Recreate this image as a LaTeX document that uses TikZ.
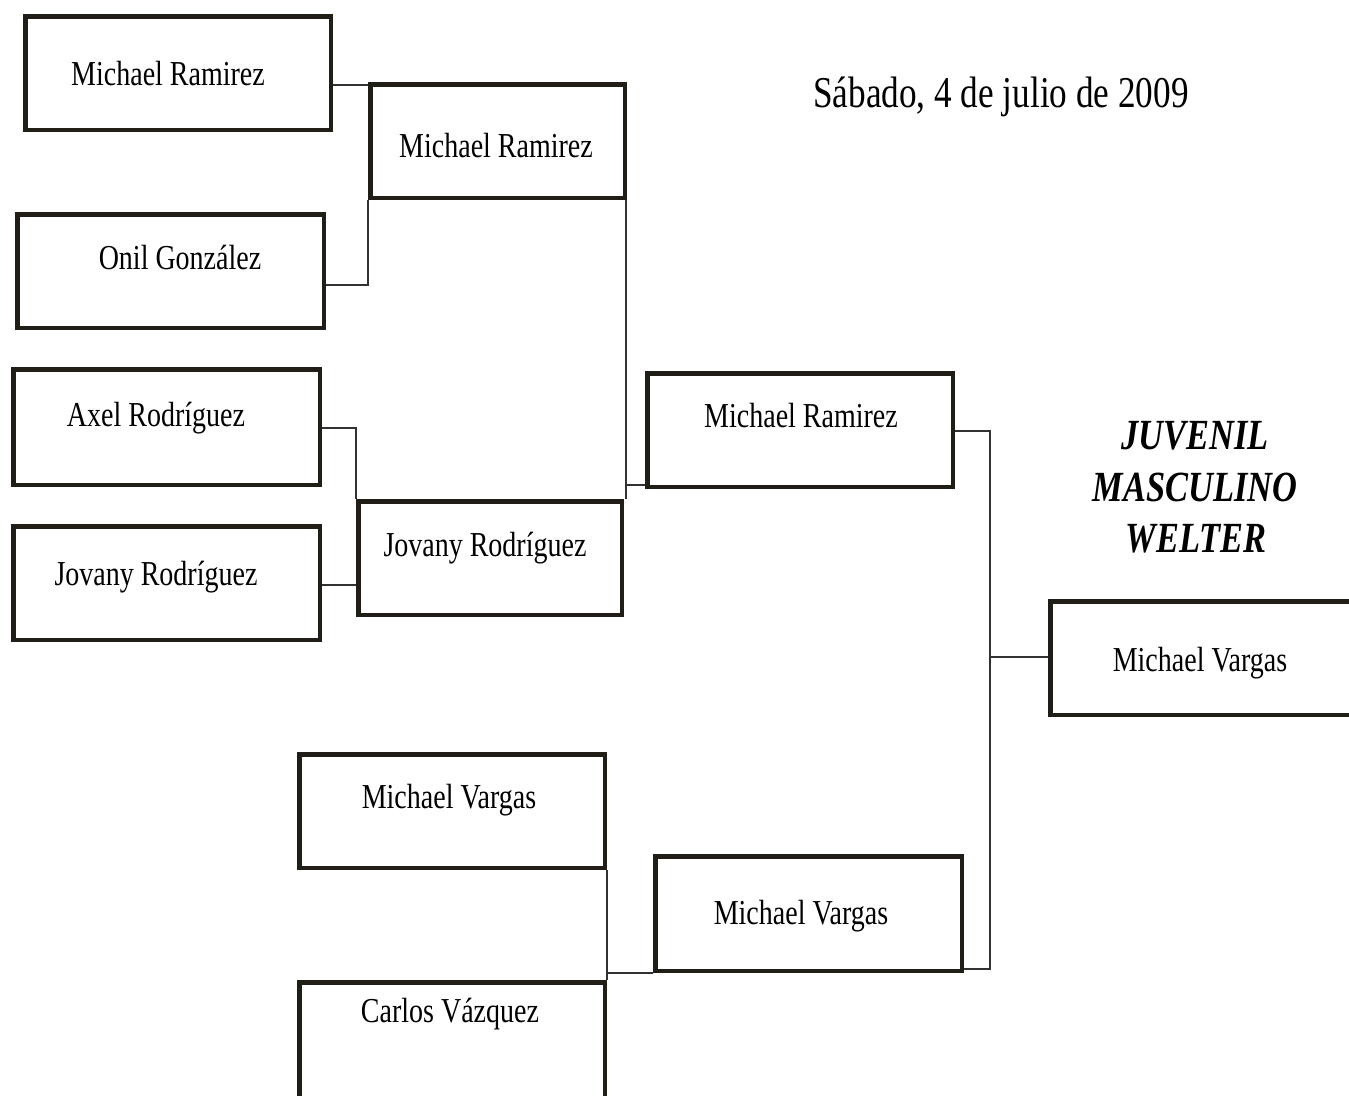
\documentclass[tikz,border=0pt]{standalone}
\usepackage{fontspec}
\setmainfont[FakeStretch=0.8]{Liberation Serif}
\definecolor{boxc}{RGB}{32,30,22}
\definecolor{connc}{RGB}{50,50,50}
\begin{document}
\begin{tikzpicture}[x=1pt,y=-1pt,
  bx/.style={draw=boxc, line width=4.5pt, inner sep=0pt, fill=none},
  conn/.style={draw=connc, line width=1.4pt},
  nm/.style={anchor=base, inner sep=0pt, font=\fontsize{35}{40}\selectfont},
  ttl/.style={anchor=base, inner sep=0pt, font=\fontsize{44}{50}\selectfont},
  cat/.style={anchor=base, inner sep=0pt, font=\fontsize{43}{50}\selectfont\bfseries\itshape}]
\useasboundingbox (0,0) rectangle (1349,1095);
\clip (0,0) rectangle (1349,1095);
% boxes: center at ((x1+x2)/2,(y1+y2)/2), size (w-4.5, h-4.5)
\node[bx, minimum width=305.5pt, minimum height=113.5pt] (b1) at (178,73) {};
\node[bx, minimum width=306.5pt, minimum height=113.5pt] (b2) at (170.5,271) {};
\node[bx, minimum width=306.5pt, minimum height=115.5pt] (b3) at (166.5,427) {};
\node[bx, minimum width=306.5pt, minimum height=113.5pt] (b4) at (166.5,583) {};
\node[bx, minimum width=254.5pt, minimum height=113.5pt] (b5) at (497.5,141) {};
\node[bx, minimum width=263.5pt, minimum height=113.5pt] (b6) at (490,558) {};
\node[bx, minimum width=305.5pt, minimum height=113.5pt] (b7) at (800,430) {};
\node[bx, minimum width=305.5pt, minimum height=113.5pt] (b8) at (452,811) {};
\node[bx, minimum width=305.5pt, minimum height=135.5pt] (b9) at (452,1050) {};
\node[bx, minimum width=306.5pt, minimum height=114.5pt] (b10) at (808.5,913.5) {};
\node[bx, minimum width=312.5pt, minimum height=113.5pt] (b11) at (1206.5,658) {};
% names
\node[nm] (t1) at (168,85.5) {Michael Ramirez};
\node[nm] (t2) at (180,269.5) {Onil González};
\node[nm] (t3) at (156,426.5) {Axel Rodríguez};
\node[nm] (t4) at (156,585.5) {Jovany Rodríguez};
\node[nm] (t5) at (496,157.5) {Michael Ramirez};
\node[nm] (t6) at (485,556.5) {Jovany Rodríguez};
\node[nm] (t7) at (801,427.5) {Michael Ramirez};
\node[nm] (t8) at (449,808.5) {Michael Vargas};
\node[nm] (t9) at (450,1022.5) {Carlos Vázquez};
\node[nm] (t10) at (801,924.5) {Michael Vargas};
\node[nm] (t11) at (1200,671.5) {Michael Vargas};
% title and category
\node[ttl] (title) at (1001,107) {Sábado, 4 de julio de 2009};
\node[cat] (c1) at (1195,449) {JUVENIL};
\node[cat] (c2) at (1195,501) {MASCULINO};
\node[cat] (c3) at (1196,552) {WELTER};
% connectors
\draw[conn] (b1.east |- 0,85) -- (b5.west |- 0,85);
\draw[conn] (b2.east |- 0,285) -| (b5.south west);
\draw[conn] (b3.east |- 0,428) -| (b6.north west);
\draw[conn] (b4.east |- 0,585) -- (b6.west |- 0,585);
\coordinate (v1) at (626,200);
\draw[conn] (v1) -- (v1 |- b6.north);
\draw[conn] (v1 |- 0,485) -- (b7.west |- 0,485);
\coordinate (j) at (990,657);
\draw[conn] (b7.east |- 0,431) -- (j |- 0,431) -- (j |- 0,969) -- (b10.east |- 0,969);
\draw[conn] (j) -- (b11.west |- j);
\coordinate (v2) at (607,870);
\draw[conn] (v2) -- (v2 |- b9.north);
\draw[conn] (v2 |- 0,973) -- (b10.west |- 0,973);
\end{tikzpicture}
\end{document}
